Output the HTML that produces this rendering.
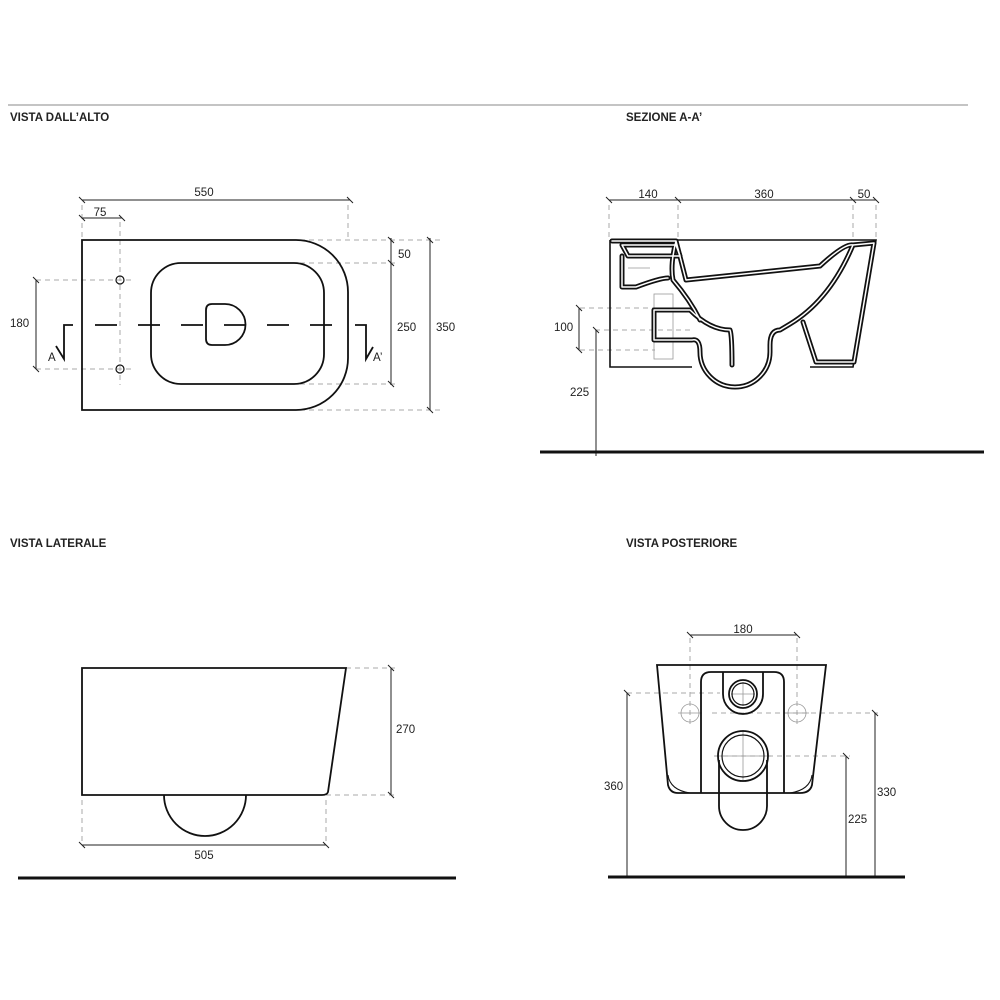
<!DOCTYPE html>
<html><head><style>body{margin:0;background:#fff}svg{display:block}text{font-family:"Liberation Sans",sans-serif;font-size:11.5px;fill:#222}.t{font-weight:bold;font-size:11.5px}</style></head><body>
<svg width="1000" height="1000" viewBox="0 0 1000 1000">
<g fill="none" stroke="#222" stroke-width="1">
<line x1="8" y1="105" x2="968" y2="105" stroke="#888"/>
</g>
<text class="t" x="10" y="121">VISTA DALL’ALTO</text>
<text class="t" x="626" y="121">SEZIONE A-A’</text>
<text class="t" x="10" y="547">VISTA LATERALE</text>
<text class="t" x="626" y="547">VISTA POSTERIORE</text>

<g stroke="#aaa" stroke-width="1" stroke-dasharray="5,4" fill="none">
<line x1="82" y1="205" x2="82" y2="240"/><line x1="120" y1="222" x2="120" y2="385"/>
<line x1="348" y1="205" x2="348" y2="240"/>
<line x1="300" y1="240" x2="440" y2="240"/><line x1="300" y1="263" x2="395" y2="263"/>
<line x1="300" y1="384" x2="395" y2="384"/><line x1="300" y1="410" x2="440" y2="410"/>
<line x1="36" y1="280" x2="135" y2="280"/><line x1="36" y1="369" x2="135" y2="369"/>
<line x1="609" y1="205" x2="609" y2="238"/><line x1="678" y1="205" x2="678" y2="238"/>
<line x1="853" y1="205" x2="853" y2="238"/><line x1="876" y1="205" x2="876" y2="238"/>
<line x1="580" y1="308" x2="655" y2="308"/><line x1="595" y1="330" x2="692" y2="330"/>
<line x1="580" y1="350" x2="655" y2="350"/>
<line x1="346" y1="668" x2="395" y2="668"/><line x1="326" y1="795" x2="395" y2="795"/>
<line x1="82" y1="800" x2="82" y2="845"/><line x1="326" y1="800" x2="326" y2="845"/>
<line x1="690" y1="638" x2="690" y2="725"/><line x1="797" y1="638" x2="797" y2="725"/>
<line x1="627" y1="693" x2="720" y2="693"/><line x1="712" y1="713" x2="878" y2="713"/>
<line x1="714" y1="756" x2="850" y2="756"/>
</g>
<g stroke="#999" stroke-width="0.8" fill="none">
<rect x="654" y="294" width="19" height="65"/>
<line x1="743" y1="682" x2="743" y2="706"/><line x1="731" y1="694" x2="755" y2="694"/>
<line x1="743" y1="730" x2="743" y2="782"/><line x1="715" y1="756" x2="771" y2="756"/>
<circle cx="690" cy="713" r="9"/><circle cx="797" cy="713" r="9"/>
<line x1="678" y1="713" x2="702" y2="713"/><line x1="785" y1="713" x2="809" y2="713"/>
<line x1="628" y1="268" x2="650" y2="268"/>
</g>

<g stroke="#222" stroke-width="1" fill="none">
<line x1="82" y1="200" x2="350" y2="200"/><path d="M79 197l6 6M347 197l6 6"/>
<line x1="82" y1="218" x2="122" y2="218"/><path d="M79 215l6 6M119 215l6 6"/>
<line x1="391" y1="238" x2="391" y2="385"/><path d="M388 237l6 6M388 260l6 6M388 381l6 6"/>
<line x1="430" y1="238" x2="430" y2="410"/><path d="M427 237l6 6M427 407l6 6"/>
<line x1="36" y1="280" x2="36" y2="369"/><path d="M33 277l6 6M33 366l6 6"/>
<line x1="609" y1="200" x2="876" y2="200"/><path d="M606 197l6 6M675 197l6 6M850 197l6 6M873 197l6 6"/>
<line x1="579" y1="308" x2="579" y2="350"/><path d="M576 305l6 6M576 347l6 6"/>
<line x1="596" y1="330" x2="596" y2="456"/><path d="M593 327l6 6"/>
<line x1="391" y1="668" x2="391" y2="795"/><path d="M388 665l6 6M388 792l6 6"/>
<line x1="82" y1="845" x2="326" y2="845"/><path d="M79 842l6 6M323 842l6 6"/>
<line x1="690" y1="635" x2="797" y2="635"/><path d="M687 632l6 6M794 632l6 6"/>
<line x1="627" y1="693" x2="627" y2="878"/><path d="M624 690l6 6"/>
<line x1="875" y1="713" x2="875" y2="878"/><path d="M872 710l6 6"/>
<line x1="846" y1="756" x2="846" y2="878"/><path d="M843 753l6 6"/>
</g>
<text x="204" y="196" text-anchor="middle">550</text>
<text x="100" y="216" text-anchor="middle">75</text>
<text x="398" y="258">50</text><text x="397" y="331">250</text><text x="436" y="331">350</text>
<text x="10" y="327">180</text>
<text x="48" y="361">A</text><text x="373" y="361">A’</text>
<text x="648" y="198" text-anchor="middle">140</text><text x="764" y="198" text-anchor="middle">360</text><text x="864" y="198" text-anchor="middle">50</text>
<text x="554" y="331">100</text><text x="570" y="396">225</text>
<text x="396" y="733">270</text><text x="204" y="859" text-anchor="middle">505</text>
<text x="743" y="633" text-anchor="middle">180</text>
<text x="604" y="790">360</text><text x="877" y="796">330</text><text x="848" y="823">225</text>

<g stroke="#111" stroke-width="3"><line x1="540" y1="452" x2="984" y2="452"/><line x1="18" y1="878" x2="456" y2="878"/><line x1="608" y1="877" x2="905" y2="877"/></g>

<g stroke="#111" stroke-width="1.8" fill="none">
<path d="M82 240H296A52 52 0 0 1 348 292V358A52 52 0 0 1 296 410H82Z"/>
<rect x="151" y="263" width="173" height="121" rx="30"/>
<path d="M206 310Q206 304 212 304H225A20 20 0 0 1 225 345H212Q206 345 206 339Z"/>
<circle cx="120" cy="280" r="4" stroke-width="1.2"/><circle cx="120" cy="369" r="4" stroke-width="1.2"/>
<line x1="95" y1="325" x2="340" y2="325" stroke-dasharray="22,21"/>
<path d="M73 325H64V359L56 346M355 325H366V359L373 347"/>
</g>

<g fill="none" stroke="#111" stroke-width="1.6">
<path d="M610 240H876L853 367H810M692 367H610V240"/>
</g>
<g fill="none" stroke="#111" stroke-width="5" stroke-linejoin="round" stroke-linecap="round">
<path d="M612 241H676L686 280L820 266Q845 243 853 245 Q830 300 790 324L780 330Q770 330 770 345V352A35 35 0 0 1 700 352Q700 338 692 340H654V310H690Q710 330 730 330Q732 335 732 365M676 241Q670 265 673 280Q690 300 700 320"/>
<path d="M622 245H676L680 256H628ZM622 256V287H636Q660 278 668 278"/>
<path d="M853 245L874 243L854 362H816L803 322"/>
</g>
<g fill="none" stroke="#fff" stroke-width="1.5" stroke-linejoin="round" stroke-linecap="round">
<path d="M612 241H676L686 280L820 266Q845 243 853 245 Q830 300 790 324L780 330Q770 330 770 345V352A35 35 0 0 1 700 352Q700 338 692 340H654V310H690Q710 330 730 330Q732 335 732 365M676 241Q670 265 673 280Q690 300 700 320"/>
<path d="M622 245H676L680 256H628ZM622 256V287H636Q660 278 668 278"/>
<path d="M853 245L874 243L854 362H816L803 322"/>
</g>

<g stroke="#111" stroke-width="1.8" fill="none">
<path d="M82 668H346L328 792Q327 795 322 795H82Z"/>
<path d="M164 795A41 41 0 0 0 246 795"/>
</g>

<g stroke="#111" stroke-width="1.8" fill="none">
<path d="M657 665H826L812 785Q810 793 800 793H678Q670 793 668 785Z"/>
<path d="M668 775Q670 790 690 793M812 775Q810 790 790 793" stroke-width="1"/>
<path d="M701 793V682Q701 672 711 672H774Q784 672 784 682V793"/>
<path d="M723 672V694A20 20 0 0 0 763 694V672"/>
<circle cx="743" cy="694" r="14"/><circle cx="743" cy="694" r="11" stroke-width="1.2"/>
<circle cx="743" cy="756" r="25"/><circle cx="743" cy="756" r="21" stroke-width="1.2"/>
<path d="M719 760V806A24 24 0 0 0 767 806V760"/>
</g>
</svg>
</body></html>
